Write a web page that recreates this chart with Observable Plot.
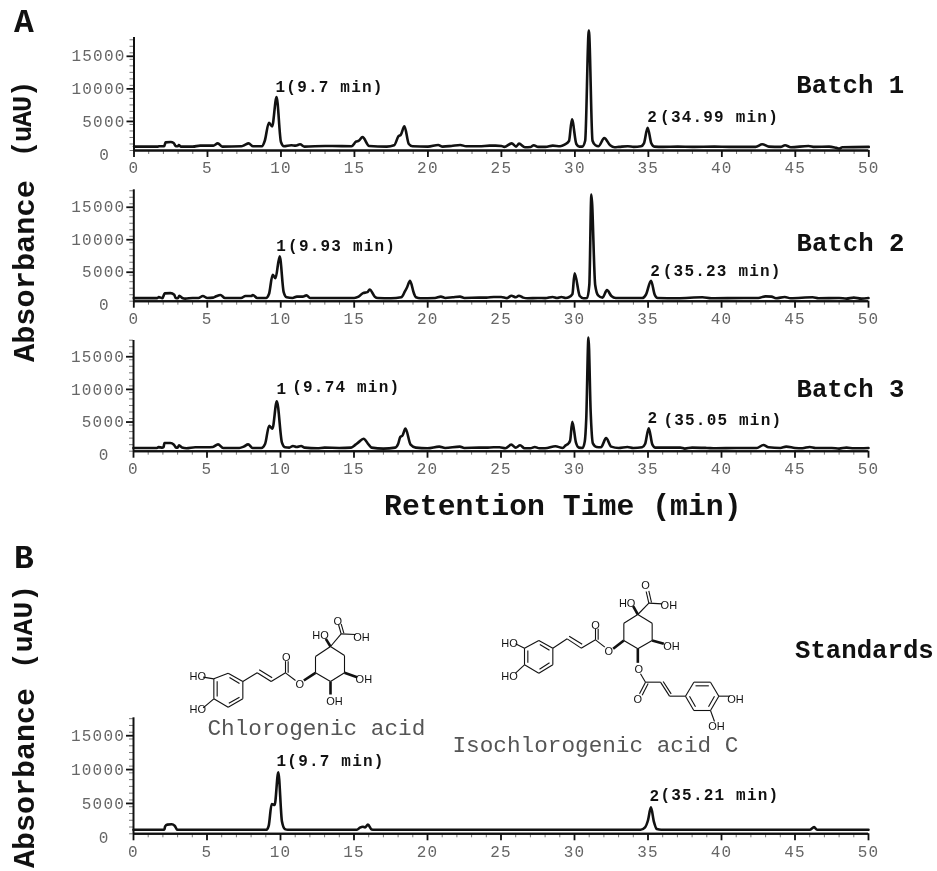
<!DOCTYPE html>
<html><head><meta charset="utf-8">
<script src="https://cdn.jsdelivr.net/npm/d3@7"></script>
<script src="https://cdn.jsdelivr.net/npm/@observablehq/plot@0.6"></script>
<style>
html,body{margin:0;padding:0;background:#fff}
#root{position:relative;width:937px;height:871px;overflow:hidden;font-family:"Liberation Mono",monospace;color:#111;filter:blur(0.3px)}
#root svg{position:absolute;left:0;background:transparent;overflow:visible}
g[font-size="16"]{letter-spacing:1.2px}
.t{position:absolute;white-space:pre;font-weight:bold;line-height:1;transform-origin:0 0}
</style></head><body><div id="root"></div>
<script>
const batch1Time=[0,1.6,1.7,2.05,2.15,2.5,2.7,2.85,3,3.05,3.2,4,4.5,5,5.4,5.7,6,7.3,7.5,7.8,8.1,8.7,8.9,9.18,9.4,9.7,10,10.2,10.7,11,11.3,11.6,13,13.5,14.8,15.1,15.3,15.55,16,17.2,17.7,18,18.15,18.4,18.7,18.95,20,20.7,21,21.6,22.2,22.6,23.5,24.2,24.6,25,25.2,25.7,26,26.2,26.6,27,27.2,27.5,28,28.5,29,29.3,29.6,29.8,30.1,30.3,30.5,30.7,30.95,31.2,31.4,31.6,32,32.4,32.7,33,33.6,34,34.5,34.7,34.95,35.2,35.4,36,37,38,39.5,40.5,41.5,42.3,42.75,43.2,44,44.3,44.7,45.9,46.3,47.3,47.8,48,48.2,50];
const batch1Abs=[600,600,650,650,1250,1300,1150,650,650,850,600,600,750,750,750,1100,600,650,800,1100,650,650,1500,4250,3700,8200,1300,650,800,750,950,600,700,700,650,1350,1500,2050,700,600,800,2200,2400,3700,1000,650,600,850,600,700,850,650,650,750,750,700,550,1100,600,1050,500,550,800,550,550,750,650,900,1450,4800,1000,600,600,1500,18400,1500,800,650,1900,800,500,550,650,550,650,1100,3500,1100,600,550,600,550,600,550,550,550,950,600,550,800,500,700,550,600,400,300,500,550];
const batch2Time=[0,1.6,1.7,1.95,2.1,2.5,2.75,2.85,3,3.1,3.3,3.5,4,4.4,4.7,5,5.4,5.6,5.9,6.2,7.3,7.6,8,8.1,8.4,9,9.2,9.45,9.64,9.93,10.2,10.4,10.8,11.1,11.5,11.75,12,13.3,15,15.3,15.6,15.9,16.05,16.4,16.6,17.5,18.2,18.45,18.6,18.8,19.05,19.2,19.5,20.5,20.9,21.2,21.7,22.2,22.5,23.5,24,24.5,25,25.4,25.7,26,26.2,26.5,26.8,27.5,28,28.5,28.8,29.1,29.4,29.6,29.85,30,30.35,30.6,30.85,31,31.14,31.4,31.6,31.9,32.2,32.5,32.8,34,34.6,34.85,35.2,35.45,35.65,37,38.7,39.3,41.5,42.5,43,43.4,43.7,44.3,44.7,46.2,46.6,48,48.5,49,49.5,50];
const batch2Abs=[480,480,620,480,1200,1250,1000,500,450,850,500,400,500,500,800,500,550,750,950,500,500,800,800,950,500,500,1100,4050,3550,6900,1400,600,500,700,700,900,500,500,500,700,1250,1400,1800,700,500,450,600,1500,2150,3150,1300,600,450,500,700,500,600,700,500,550,550,650,650,480,850,600,850,550,450,500,480,650,500,650,500,600,1100,4300,800,450,500,2500,16400,2500,900,550,1700,800,500,500,500,1000,3150,1000,500,450,600,450,500,500,750,700,450,650,450,600,450,500,400,550,400,480];
const batch3Time=[0,1.6,1.7,1.95,2.05,2.1,2.5,2.75,2.9,3,3.1,3.3,3.6,4.2,5,5.4,5.75,6.1,7.2,7.5,7.8,8.1,8.7,8.95,9.23,9.45,9.75,10.1,10.3,10.6,10.85,11.1,11.4,11.65,12.5,13,14,14.8,15.1,15.3,15.65,16,16.2,17,17.8,18,18.15,18.3,18.5,18.85,19.2,20,20.8,21.2,22.2,22.5,23.5,24,24.5,24.9,25.3,25.7,26,26.3,26.6,27,27.3,27.6,28,28.7,29.2,29.4,29.55,29.7,29.85,30.1,30.3,30.55,30.7,30.8,30.95,31.1,31.25,31.5,31.8,32.15,32.5,33,33.6,34,34.6,34.8,35.05,35.3,35.5,37.2,37.5,38,39,39.6,41,42.4,42.85,43.2,44,44.4,45,45.5,46,46.4,47.5,48,48.5,49,50];
const batch3Abs=[500,500,620,550,650,1250,1250,1000,550,550,900,550,450,600,600,650,1050,500,500,700,1050,500,500,1100,3900,3450,7650,1300,600,550,800,650,800,550,450,550,500,550,1000,1350,1900,1000,550,400,550,1100,2200,2400,3450,1000,550,450,700,500,700,500,550,550,600,600,450,1000,550,900,450,450,650,450,450,750,500,900,1100,1600,4500,1300,550,500,1500,5000,17400,6000,1200,650,600,2000,700,500,650,500,600,1100,3500,1000,550,550,400,550,500,450,500,500,950,600,500,700,500,450,650,500,500,400,550,450,500];
const standardTime=[0,2.1,2.15,2.3,2.6,2.8,2.95,3,9.05,9.2,9.4,9.6,9.85,10.1,10.3,10.5,15.2,15.4,15.6,15.75,15.95,16.2,16.4,34.5,34.8,35,35.2,35.4,35.6,35.9,46,46.3,46.5,50];
const standardAbs=[600,600,1100,1350,1400,1200,650,600,600,1200,4400,4250,9100,1800,700,600,600,900,1050,950,1350,650,600,600,950,2000,3900,1800,700,600,600,980,600,600];

const majorX=d3.range(0,51,5), minorX=d3.range(0,51,1);
const majorY=[5000,10000,15000], minorY=d3.range(0,18000,1000);

const peakLabels1=[{t:9.63,v:9050,s:"1(9.7 min)"},{t:34.93,v:4300,s:"2"},{t:35.8,v:4300,s:"(34.99 min)"}];
const peakLabels2=[{t:9.7,v:7700,s:"1"},{t:10.5,v:7800,s:"(9.93 min)"},{t:35.15,v:3850,s:"2"},{t:36,v:3950,s:"(35.23 min)"}];
const peakLabels3=[{t:9.73,v:8780,s:"1"},{t:10.8,v:9030,s:"(9.74 min)"},{t:34.97,v:4280,s:"2"},{t:36.05,v:4040,s:"(35.05 min)"}];
const peakLabels4=[{t:9.73,v:10080,s:"1(9.7 min)"},{t:35.1,v:4810,s:"2"},{t:35.85,v:5060,s:"(35.21 min)"}];
const sampleNames=[{t:45.07,v:8900,s:"Batch 1"},{t:45.1,v:7800,s:"Batch 2"},{t:45.1,v:8370,s:"Batch 3"},{t:45,v:26000,s:"Standards"}];
const compoundNames=[{t:5.03,v:14660,s:"Chlorogenic acid"},{t:21.7,v:12150,s:"Isochlorogenic acid C"}];

const root=document.getElementById("root");
function panel({time,abs,labels,extra,axisTop,base,x0,x1,yTop,svgTop,svgBottom}){
  const table=time.map((t,i)=>({t,v:abs[i]}));
  const svg=Plot.plot({
    width:937,height:svgBottom-svgTop,
    marginLeft:x0,marginRight:937-x1,marginTop:axisTop-svgTop,marginBottom:svgBottom-base,
    x:{domain:[0,50],label:null,axis:null},
    y:{domain:[0,yTop],label:null,axis:null},
    style:{fontFamily:'"Liberation Mono",monospace'},
    marks:[
      Plot.axisX({ticks:minorX,tickSize:4,tickFormat:()=>"",stroke:"#777",strokeWidth:1}),
      Plot.axisY({ticks:minorY,tickSize:4,tickFormat:()=>"",stroke:"#777",strokeWidth:1}),
      Plot.axisX({ticks:majorX,tickSize:7,tickPadding:4.6,strokeWidth:1.8,fontSize:16,fill:"#666",tickFormat:d=>String(d)}),
      Plot.axisY({ticks:majorY,tickSize:7,tickPadding:1.5,strokeWidth:1.8,fontSize:16,fill:"#666",dy:3.5,tickFormat:d=>String(d)}),
      Plot.tickY([0],{x1:-0.5,x2:0,stroke:"#111",strokeWidth:2}),
      Plot.text([0],{x:0,y:0,text:()=>"0",dx:-24,dy:4,textAnchor:"end",fontSize:16,fill:"#666"}),
      Plot.ruleY([0],{x1:0,x2:50,stroke:"#111",strokeWidth:2}),
      Plot.ruleX([0],{y1:0,y2:yTop,stroke:"#111",strokeWidth:2}),
      Plot.line(table,{x:"t",y:"v",curve:"monotone-x",stroke:"#111",strokeWidth:2.6}),
      Plot.text(labels,{x:"t",y:"v",text:"s",textAnchor:"start",lineAnchor:"bottom",fontSize:16,fontWeight:"bold",fill:"#111"}),
      ...extra
    ]
  });
  svg.style.top=svgTop+"px";
  root.appendChild(svg);
}
const nameMark=n=>Plot.text([sampleNames[n]],{x:"t",y:"v",text:"s",textAnchor:"start",lineAnchor:"bottom",fontSize:25.7,fontWeight:"bold",fill:"#111"});
panel({time:batch1Time,abs:batch1Abs,labels:peakLabels1,extra:[nameMark(0)],axisTop:37,base:150,x0:133.5,x1:868.3,yTop:17350,svgTop:20,svgBottom:182});
panel({time:batch2Time,abs:batch2Abs,labels:peakLabels2,extra:[nameMark(1)],axisTop:189.3,base:300.7,x0:133.3,x1:868,yTop:17150,svgTop:175,svgBottom:332});
panel({time:batch3Time,abs:batch3Abs,labels:peakLabels3,extra:[nameMark(2)],axisTop:340,base:450.7,x0:133,x1:868,yTop:16950,svgTop:325,svgBottom:482});
panel({time:standardTime,abs:standardAbs,labels:peakLabels4,extra:[nameMark(3),
  Plot.text(compoundNames,{x:"t",y:"v",text:"s",textAnchor:"start",lineAnchor:"bottom",fontSize:22.7,fill:"#555"})],
  axisTop:717.3,base:833.3,x0:133,x1:868,yTop:17130,svgTop:600,svgBottom:868});

/* Chemical structures: bonds as [x1,y1,x2,y2] in structure units */
const acidBonds=[[100,175,143,158],[143,158,187,183],[187,183,187,235],[187,235,143,260],[143,260,100,235],[100,235,100,175],[110,182,110,228],[147,171,177,189],[177,230,145,248],
[68,170,100,175],[68,262,100,235],[187,183,230,157],[230,157,272,183],[236,148,275,172],[272,183,315,157],[315,157,315,122],[323,157,323,122],[315,157,345,180],
[405,157,405,108],[405,108,450,78],[450,78,492,105],[492,105,492,157],[492,157,450,183],[450,183,405,157],[450,78,482,40],[482,40,525,42],[482,40,474,12],[490,38,482,10]];
const acidWedges=[[370,180,405,157],[492,157,530,170],[450,183,450,222],[450,78,436,55]];
const acidAtoms=[{x:52,y:168,s:"HO"},{x:52,y:268,s:"HO"},{x:317,y:112,s:"O"},{x:358,y:192,s:"O"},{x:550,y:178,s:"OH"},{x:462,y:242,s:"OH"},{x:420,y:45,s:"HO"},{x:543,y:52,s:"OH"},{x:472,y:2,s:"O"}];
const isoBonds=[[145,195,187,218],[187,218,187,268],[187,268,145,293],[145,293,102,268],[102,268,102,218],[102,218,145,195],[112,225,112,262],[148,207,177,224],[177,262,147,281],
[75,205,102,218],[75,293,102,268],[187,218,230,190],[230,190,272,218],[236,182,275,206],[272,218,315,193],[315,193,315,160],[323,193,323,160],[315,193,343,215],
[400,195,400,143],[400,143,442,117],[442,117,485,143],[485,143,485,195],[485,195,442,220],[442,220,400,195],[442,117,475,83],[475,83,515,85],[475,83,467,48],[483,81,475,46],
[450,295,465,320],[465,320,447,355],[473,324,455,359],[465,320,510,320],[510,320,537,362],[518,318,542,355],[537,362,585,362],
[585,362,610,320],[610,320,660,320],[660,320,685,362],[685,362,660,405],[660,405,610,405],[610,405,585,362],[615,331,655,331],[672,362,654,394],[597,362,615,394],
[685,362,718,362],[660,405,672,438]];
const isoWedges=[[368,220,400,195],[485,195,520,205],[442,220,442,262],[442,117,428,92]];
const isoAtoms=[{x:57,y:203,s:"HO"},{x:57,y:302,s:"HO"},{x:315,y:150,s:"O"},{x:355,y:228,s:"O"},{x:543,y:213,s:"OH"},{x:445,y:283,s:"O"},{x:442,y:372,s:"O"},{x:735,y:372,s:"OH"},{x:678,y:453,s:"OH"},{x:410,y:83,s:"HO"},{x:535,y:90,s:"OH"},{x:465,y:30,s:"O"}];
function structure(bonds,wedges,atoms,left,top,w,h){
  const link=(data,sw)=>Plot.link(data,{x1:d=>d[0],y1:d=>d[1],x2:d=>d[2],y2:d=>d[3],stroke:"#111",strokeWidth:sw});
  const svg=Plot.plot({width:w,height:h,margin:0,
    x:{domain:[0,w*3],axis:null},y:{domain:[0,h*3],range:[0,h],axis:null},
    style:{fontFamily:'"Liberation Sans",sans-serif'},
    marks:[link(bonds,1.1),link(wedges,2.6),
      Plot.text(atoms,{x:"x",y:"y",text:"s",fontSize:11,fill:"#111"})]});
  svg.style.left=left+"px";svg.style.top=top+"px";
  root.appendChild(svg);
}
structure(acidBonds,acidWedges,acidAtoms,180,620,210,100);
structure(isoBonds,isoWedges,isoAtoms,490,575,270,160);

function label(text,left,top,size,rot,spacing){
  const d=document.createElement("div");d.className="t";d.textContent=text;
  d.style.cssText+=`left:${left}px;top:${top}px;font-size:${size}px;`+(rot?"transform:rotate(-90deg);":"")+(spacing?`letter-spacing:${spacing}px;`:"");
  root.appendChild(d);
}
label("A",14,7,33);
label("B",14,543,33);
label("Retention Time (min)",384,493,29.8);
label("Absorbance",11,362,30.3,true);
label("(uAU)",11,157,27,true,-1.2);
label("Absorbance",11,868,30,true);
label("(uAU)",11,669,28,true);
</script></body></html>
